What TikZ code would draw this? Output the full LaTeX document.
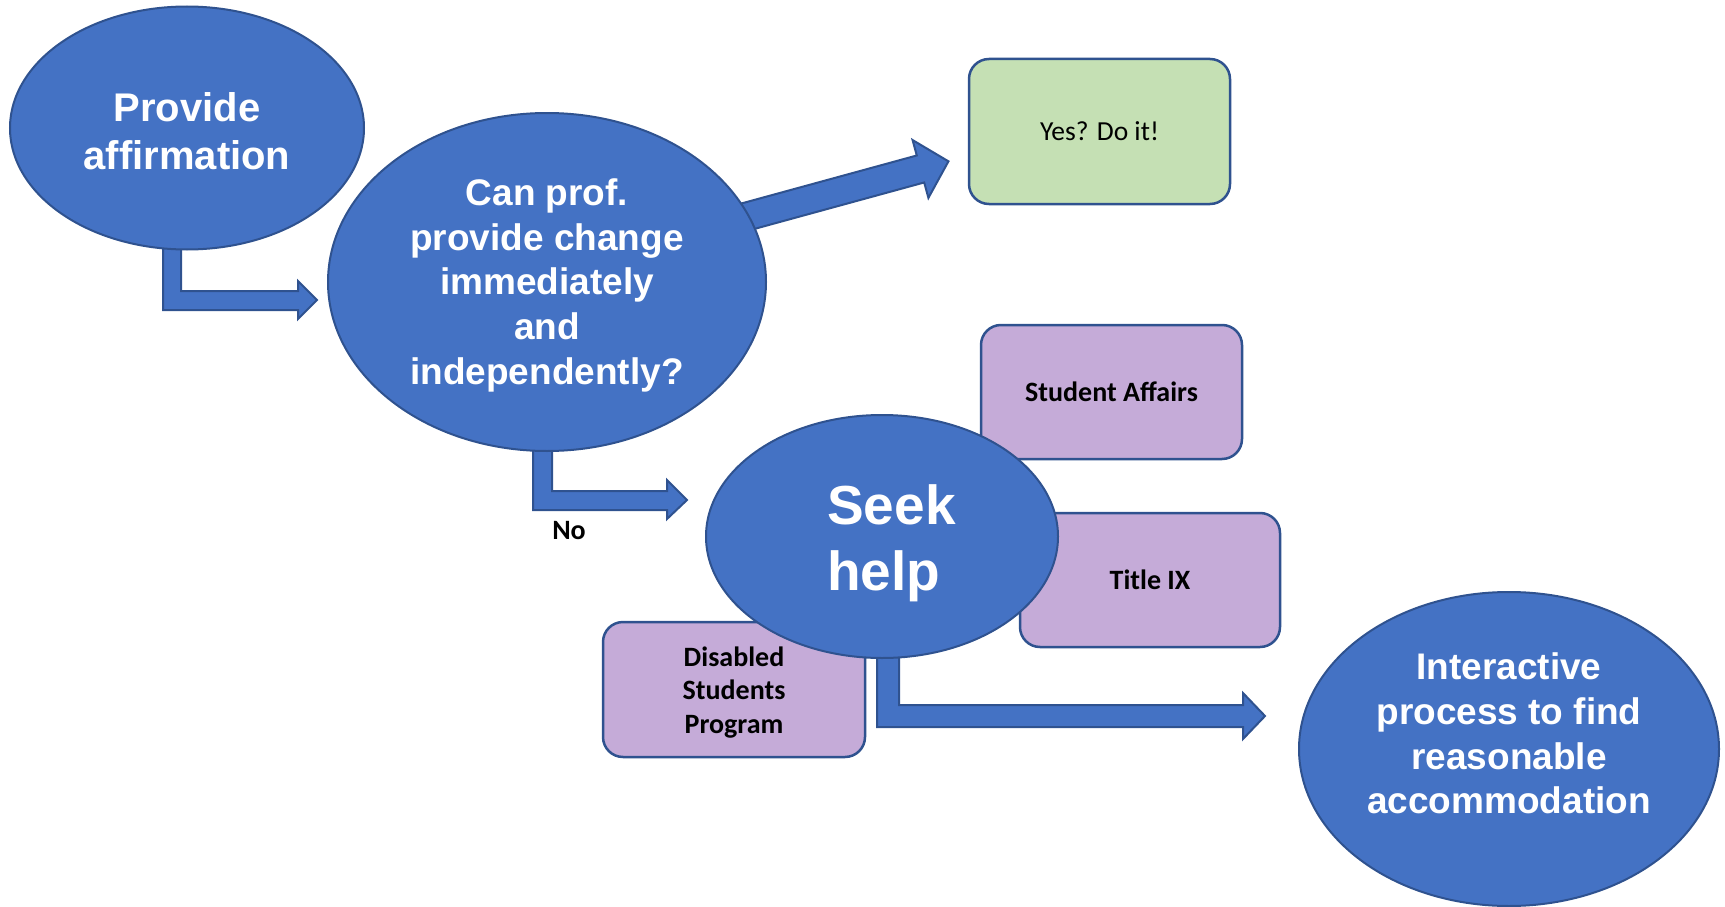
\documentclass[tikz,border=0pt]{standalone}
\usepackage{fontspec}
\setmainfont{Carlito}
\newfontfamily\arialfont{Liberation Sans}
\usetikzlibrary{shapes.geometric}

\definecolor{ovalblue}{HTML}{4472C4}
\definecolor{edgeblue}{HTML}{2F528F}
\definecolor{yesgreen}{HTML}{C5E0B4}
\definecolor{helppurple}{HTML}{C5ABD8}

\pgfdeclarelayer{bg}
\pgfsetlayers{bg,main}

\tikzset{
	oval/.style={ellipse, draw=edgeblue, line width=2pt, fill=ovalblue, inner sep=0pt},
	ovaltext/.style={text=white, align=center, inner sep=0pt},
	helpbox/.style={rectangle, rounded corners=20pt, draw=edgeblue, line width=2.5pt, fill=helppurple, align=center, inner sep=0pt, minimum width=261pt, minimum height=134pt, font=\fontsize{28}{33.5}\selectfont\bfseries},
	blockarrow/.style={draw=edgeblue, line width=2pt, fill=ovalblue, line join=miter},
}

\begin{document}
\begin{tikzpicture}[x=1pt, y=-1pt]
	\useasboundingbox (0,0) rectangle (1725,907);

	% the boxes go first, the seek help oval sits on top of them
	\node [helpbox, fill=yesgreen, minimum height=145pt, font=\fontsize{27.5}{33}\selectfont] (yes) at (1099.5,131.5) {Yes? Do it!};
	\node [helpbox] (affairs) at (1111.5,392) {Student Affairs};
	\node [helpbox, minimum width=260pt] (titleix) at (1150,580) {Title IX};
	\node [helpbox, minimum width=262pt, minimum height=135pt,
		label={[align=center, yshift=-3pt, font=\fontsize{28}{33.5}\selectfont\bfseries]center:Disabled\\Students\\Program}] (dsp) at (734,689.5) {};

	% ovals, text set as centre labels so it can sit a little off the middle
	\node [oval, minimum width=354pt, minimum height=243pt,
		label={[ovaltext, yshift=-3.3pt, font=\arialfont\bfseries\fontsize{40}{48}\selectfont]center:Provide\\affirmation}] (affirm) at (187,128) {};
	\node [oval, minimum width=438pt, minimum height=338pt,
		label={[ovaltext, yshift=-3.3pt, font=\arialfont\bfseries\fontsize{37}{44.6}\selectfont]center:Can prof.\\provide change\\immediately\\and\\independently?}] (canprof) at (547,282) {};
	\node [oval, minimum width=352pt, minimum height=243pt,
		label={[ovaltext, align=left, xshift=9.5pt, yshift=-7pt, font=\arialfont\bfseries\fontsize{55}{66}\selectfont]center:Seek\\help}] (seek) at (882,536.5) {};
	\node [oval, minimum width=420pt, minimum height=314pt,
		label={[ovaltext, yshift=15.5pt, font=\arialfont\bfseries\fontsize{37}{44.8}\selectfont]center:Interactive\\process to find\\reasonable\\accommodation}] (interactive) at (1509,749) {};

	\node [font=\fontsize{28}{33}\selectfont\bfseries] (no) at (569,531) {No};

	% block arrows, tails hidden under the ovals
	\begin{pgfonlayer}{bg}
		\draw [blockarrow] (163,235) -- (163,310) -- (298,310) -- (298,319) -- (317,300) -- (298,281) -- (298,291) -- (181,291) -- (181,235) -- cycle;
		\draw [blockarrow] (533,440) -- (533,510) -- (667,510) -- (667,519) -- (687,500) -- (667,480) -- (667,491) -- (552,491) -- (552,440) -- cycle;
		\draw [blockarrow] (877,645) -- (877,727) -- (1243,727) -- (1243,739) -- (1265,716) -- (1243,693) -- (1243,705) -- (899,705) -- (899,645) -- cycle;
		\begin{scope}[shift={(700,229.3)}, rotate=15.3]
			\draw [blockarrow] (0,-14) -- (228.6,-14) -- (228.6,-30) -- (257.6,0) -- (228.6,30) -- (228.6,14) -- (0,14) -- cycle;
		\end{scope}
	\end{pgfonlayer}

\end{tikzpicture}
\end{document}
